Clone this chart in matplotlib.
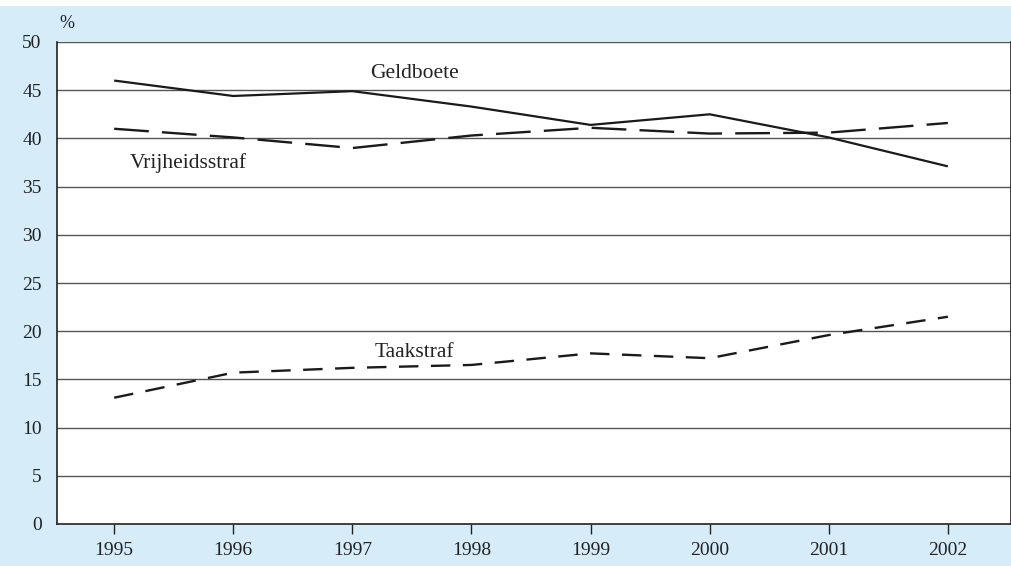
import matplotlib
matplotlib.use("Agg")
import matplotlib.pyplot as plt
from matplotlib.patches import Rectangle

years = [1995, 1996, 1997, 1998, 1999, 2000, 2001, 2002]
geldboete = [46.0, 44.4, 44.9, 43.3, 41.4, 42.5, 40.1, 37.1]
vrijheidsstraf = [41.0, 40.1, 39.0, 40.3, 41.1, 40.5, 40.6, 41.6]
taakstraf = [13.1, 15.7, 16.2, 16.5, 17.7, 17.2, 19.6, 21.5]
yticks = [0, 5, 10, 15, 20, 25, 30, 35, 40, 45, 50]

plt.rcParams['font.family'] = ['Liberation Serif', 'DejaVu Serif']
plt.rcParams['lines.scale_dashes'] = False

bg = '#d6edf9'
fig = plt.figure(figsize=(10.12, 5.66), dpi=100, facecolor=bg)
fig.patches.append(Rectangle((0, 1 - 6/566), 1, 6/566, transform=fig.transFigure,
                             facecolor='white', edgecolor='none', zorder=-1))
ax = fig.add_axes([57/1012, (566-524)/566, (1011-57)/1012, (524-42)/566])
ax.set_facecolor('white')

for y in yticks[1:]:
    ax.axhline(y, color='#555555', lw=1.0, zorder=1)

ax.plot(years, geldboete, color='#1a1a1a', lw=1.6, solid_capstyle='butt', zorder=3)
l2, = ax.plot(years, vrijheidsstraf, color='#1a1a1a', lw=1.7, zorder=3)
l2.set_dashes([25, 9.5])
l3, = ax.plot(years, taakstraf, color='#1a1a1a', lw=1.7, zorder=3)
l3.set_dashes([14, 9])

ax.set_xlim(1994.52, 2002.53)
ax.set_ylim(0, 50)
ax.set_yticks(yticks)
ax.set_xticks(years)
ax.tick_params(axis='y', length=0, pad=11, labelsize=14, colors='#222222')
ax.tick_params(axis='x', length=7, width=1, direction='out', pad=6, labelsize=14,
               colors='#222222')
for s in ['left', 'bottom', 'right']:
    ax.spines[s].set_color('#222222')
    ax.spines[s].set_linewidth(1.2)
ax.spines['top'].set_visible(False)

ax.text(1997.52, 46.75, 'Geldboete', fontsize=15.5, ha='center', va='center', color='#222222')
ax.text(1995.62, 37.4, 'Vrijheidsstraf', fontsize=15.5, ha='center', va='center', color='#222222')
ax.text(1997.52, 17.8, 'Taakstraf', fontsize=15.5, ha='center', va='center', color='#222222')
fig.text(67/1012, 1 - 23/566, '%', fontsize=13, ha='center', va='center', color='#222222')

fig.savefig('out.png', dpi=100, facecolor=bg)
